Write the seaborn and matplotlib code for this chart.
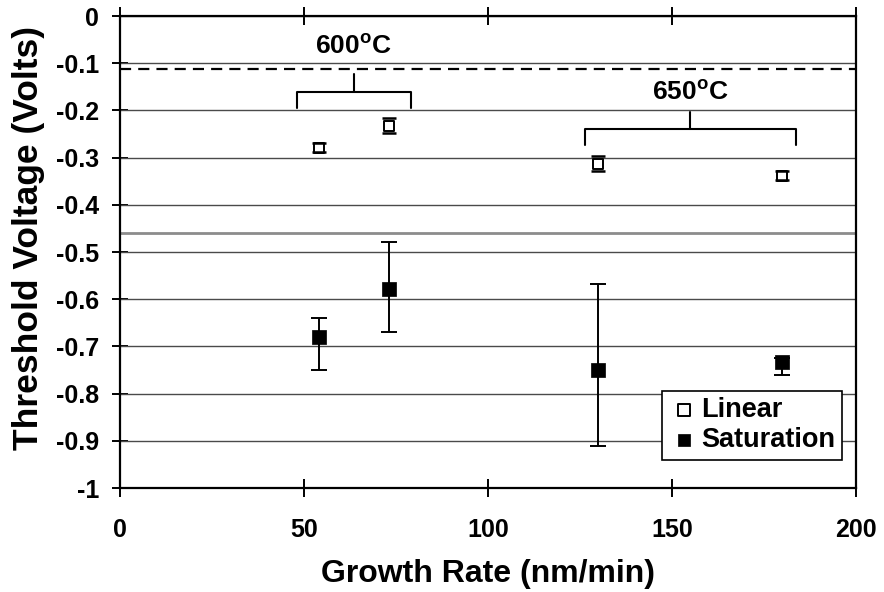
import numpy as np
import pandas as pd
import matplotlib
matplotlib.use("Agg")
import matplotlib.pyplot as plt
import seaborn as sns

# ---- data ----
growth_rate = [54, 73, 130, 180]
linear_vt = [-0.279, -0.232, -0.313, -0.338]
linear_err = [0.010, 0.016, 0.016, 0.010]
sat_vt = [-0.681, -0.579, -0.751, -0.732]
sat_err_low = [0.070, 0.091, 0.159, 0.028]
sat_err_high = [0.041, 0.100, 0.183, 0.007]

dashed_ref = -0.113
gray_ref = -0.46

group_labels = ["600", "650"]
group_span = [(48, 79), (126.4, 183.6)]
group_bracket_y = [-0.160, -0.240]
group_text_y = [-0.064, -0.162]

x_ticks = [0, 50, 100, 150, 200]
y_ticks = [0, -0.1, -0.2, -0.3, -0.4, -0.5, -0.6, -0.7, -0.8, -0.9, -1]

df = pd.DataFrame({
    "Growth Rate": growth_rate * 2,
    "Vt": linear_vt + sat_vt,
    "Mode": ["Linear"] * 4 + ["Saturation"] * 4,
})

sns.set_theme(style="white")
plt.rcParams["font.family"] = ["Liberation Sans", "DejaVu Sans"]
plt.rcParams["font.weight"] = "bold"
plt.rcParams["text.color"] = "black"
plt.rcParams["axes.labelcolor"] = "black"
plt.rcParams["xtick.color"] = "black"
plt.rcParams["ytick.color"] = "black"
plt.rcParams["mathtext.fontset"] = "custom"
plt.rcParams["mathtext.rm"] = "Liberation Sans"
plt.rcParams["mathtext.bf"] = "Liberation Sans:bold"

fig = plt.figure(figsize=(8.84, 5.92), dpi=100)
ax = fig.add_axes([120 / 884, 1 - 488 / 592, 736 / 884, 472 / 592])

# reference lines and grid
for v in y_ticks:
    ax.axhline(v, color="#4a4a4a", lw=1.0, zorder=1)
ax.axhline(dashed_ref, color="black", lw=1.6, ls=(0, (5, 3.2)), zorder=2)
ax.axhline(gray_ref, color="#8c8c8c", lw=2.0, zorder=2)

# error bars
ax.errorbar(growth_rate, sat_vt, yerr=[sat_err_low, sat_err_high], fmt="none",
            ecolor="black", elinewidth=1.4, capsize=5.5, capthick=1.4, zorder=3)
lin_eb = ax.errorbar(growth_rate, linear_vt, yerr=[linear_err, linear_err], fmt="none",
                     ecolor="black", elinewidth=1.4, capsize=5, capthick=1.8, zorder=5)
for coll in lin_eb[2]:
    coll.set_visible(False)

lin = df[df["Mode"] == "Linear"]
sat = df[df["Mode"] == "Saturation"]
sns.scatterplot(data=lin, x="Growth Rate", y="Vt", marker="s", s=62,
                color="white", edgecolor="black", linewidth=1.4,
                label="Linear", ax=ax, zorder=4)
sns.scatterplot(data=sat, x="Growth Rate", y="Vt", marker="s", s=100,
                color="black", edgecolor="black", linewidth=0.5,
                label="Saturation", ax=ax, zorder=4)

# temperature brackets
for lab, (x0, x1), yb, yt in zip(group_labels, group_span, group_bracket_y, group_text_y):
    xm = (x0 + x1) / 2
    ax.plot([x0, x0, x1, x1], [yb - 0.034, yb, yb, yb - 0.034], color="black", lw=1.5, zorder=3)
    ax.plot([xm, xm], [yb, yb + 0.037], color="black", lw=1.5, zorder=3)
    ax.text(xm, yt, r"$\mathbf{" + lab + r"}^{\mathrm{o}}\mathbf{C}$", ha="center", va="center",
            fontsize=19, zorder=6)

ax.set_xlim(0, 200)
ax.set_ylim(-1, 0)
ax.set_xticks(x_ticks)
ax.set_yticks(y_ticks)
ax.set_xticklabels([str(v) for v in x_ticks])
ax.set_yticklabels([f"{v:g}" for v in y_ticks])
ax.tick_params(axis="x", direction="inout", length=13, width=1.4, top=True,
               bottom=True, labelsize=18, pad=15, colors="black")
ax.tick_params(axis="y", direction="inout", length=12, width=1.4, left=True,
               right=False, labelsize=18, pad=9, colors="black")
for t in ax.get_xticklabels() + ax.get_yticklabels():
    t.set_fontweight("bold")

for s in ax.spines.values():
    s.set_visible(True)
    s.set_color("black")
    s.set_linewidth(1.6)

ax.set_xlabel("Growth Rate (nm/min)", fontsize=23, fontweight="bold", labelpad=12)
ax.set_ylabel("Threshold Voltage (Volts)", fontsize=25.5, fontweight="bold")
ax.yaxis.set_label_coords(-0.102, 0.53)

leg = ax.legend(loc="lower right", bbox_to_anchor=(0.981, 0.059), frameon=True,
                fancybox=False, edgecolor="black", fontsize=19.5, borderpad=0.25,
                handletextpad=0.1, handlelength=1.1, labelspacing=0.15,
                borderaxespad=0, framealpha=1)
leg.get_frame().set_linewidth(1.2)
for h in leg.legend_handles:
    h.set_sizes([70])
for t in leg.get_texts():
    t.set_fontweight("bold")

fig.savefig("out.png", dpi=100)
